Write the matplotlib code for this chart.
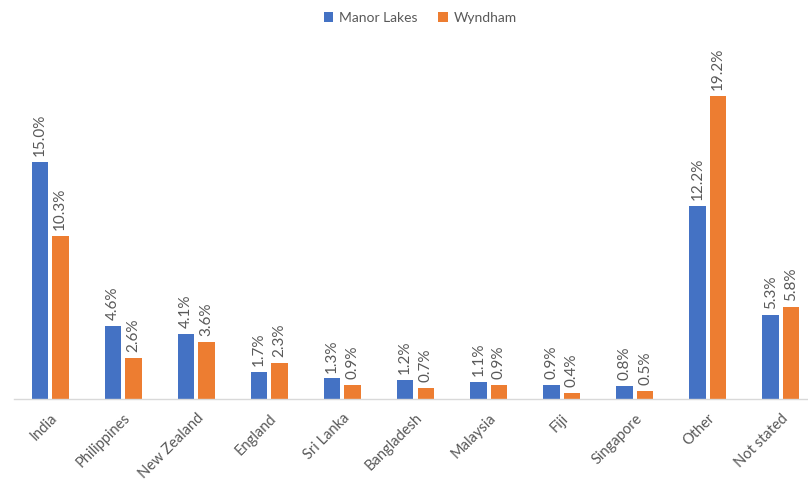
import matplotlib
matplotlib.use("Agg")
import matplotlib.pyplot as plt
import numpy as np

categories = ["India", "Philippines", "New Zealand", "England", "Sri Lanka",
              "Bangladesh", "Malaysia", "Fiji", "Singapore", "Other", "Not stated"]
manor_lakes = [15.0, 4.6, 4.1, 1.7, 1.3, 1.2, 1.1, 0.9, 0.8, 12.2, 5.3]
wyndham = [10.3, 2.6, 3.6, 2.3, 0.9, 0.7, 0.9, 0.4, 0.5, 19.2, 5.8]
series_names = ["Manor Lakes", "Wyndham"]
colors = ["#4472C4", "#ED7D31"]

plt.rcParams['font.family'] = ['Lato', 'DejaVu Sans']
text_color = "#595959"

fig = plt.figure(figsize=(8.08, 4.85), dpi=100)
ax = fig.add_axes([13.5/808, 85/485, 804/808, 360/485])

x = np.arange(len(categories))
w = 0.225
off = 0.14
b1 = ax.bar(x - off, manor_lakes, w, color=colors[0], label=series_names[0])
b2 = ax.bar(x + off, wyndham, w, color=colors[1], label=series_names[1])

for bars, vals in ((b1, manor_lakes), (b2, wyndham)):
    for b, v in zip(bars, vals):
        ax.annotate(f"{v:.1f}%", (b.get_x() + b.get_width()/2, v),
                    xytext=(0, 5), textcoords="offset points",
                    rotation=90, ha="center", va="bottom",
                    fontsize=11, color=text_color)

ax.set_xlim(-0.5, len(categories) - 0.5)
ax.set_ylim(0, 360/15.8)
ax.set_xticks(x)
ax.set_xticklabels(categories, rotation=45, ha="right", va="top",
                   rotation_mode="anchor", fontsize=10.5, color=text_color)
ax.tick_params(axis="x", length=0, pad=8)
ax.set_yticks([])
for s in ["top", "right", "left"]:
    ax.spines[s].set_visible(False)
ax.spines["bottom"].set_color("#D9D9D9")
ax.spines["bottom"].set_linewidth(1)

leg = fig.legend(loc="upper center", bbox_to_anchor=(0.52, 1.0), ncol=2,
                 frameon=False, fontsize=10, handlelength=0.7, handleheight=0.7,
                 columnspacing=1.5, handletextpad=0.4)
for t in leg.get_texts():
    t.set_color(text_color)

fig.savefig("out.png", dpi=100)
